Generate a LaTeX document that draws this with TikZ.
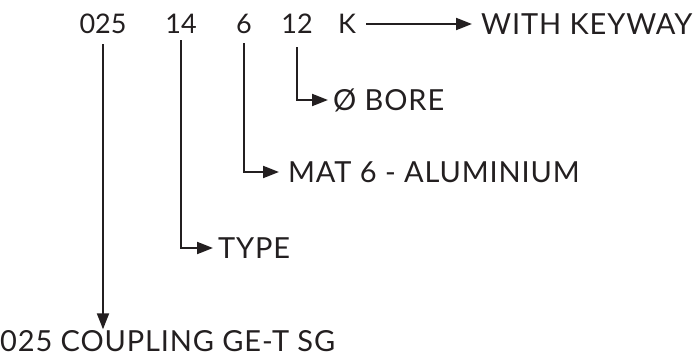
\documentclass[tikz,border=0pt]{standalone}
\usepackage{fontspec}
\setmainfont{Lato}
\newfontfamily\labelfont[LetterSpace=3]{Lato}
\usepackage{tikz}
\usepackage{xcolor}
\usetikzlibrary{arrows.meta,positioning,calc}
\definecolor{Ink}{HTML}{231F20}
\tikzset{
  code/.style={inner sep=0pt,text height=20pt,text depth=0pt,font=\fontsize{27}{30}\selectfont,text=Ink},
  label/.style={code,anchor=west,text height=21pt,font=\labelfont\fontsize{29}{32}\selectfont},
  arr/.style={-{Triangle[length=16pt,width=12pt]},draw=Ink,line width=2pt},
}
\begin{document}
\begin{tikzpicture}[x=1pt,y=-1pt]
  \useasboundingbox (0,0) rectangle (694,358);
  % part number
  \node[code] (c025) at (103,24) {025};
  \node[code] (c14) at (181,24) {14};
  \node[code] (c6) at (244,24) {6};
  \node[code] (c12) at (297,24) {12};
  \node[code] (cK) at (347,24) {K};
  % meanings
  \node[label] (keyway) at (481,24) {WITH KEYWAY};
  \node[label] (bore) at (333,100) {Ø BORE};
  \node[label] (mat) at (288,172) {MAT 6 - ALUMINIUM};
  \node[label] (type) at (218,248) {TYPE};
  \node[label] (coupling) at (0,341) {025 COUPLING GE-T SG};
  \draw[arr,shorten <=10pt,shorten >=9pt] (cK) -- (keyway);
  \draw[arr,shorten <=13pt,shorten >=5pt] (c12.south) |- (bore.west);
  \draw[arr,shorten <=9pt,shorten >=9pt] (c6.south) |- (mat.west);
  \draw[arr,shorten <=6pt,shorten >=5pt] (c14.south) |- (type.west);
  \draw[arr,shorten <=10pt,shorten >=1pt] (c025.south) -- (c025.south |- coupling.north);
\end{tikzpicture}
\end{document}
